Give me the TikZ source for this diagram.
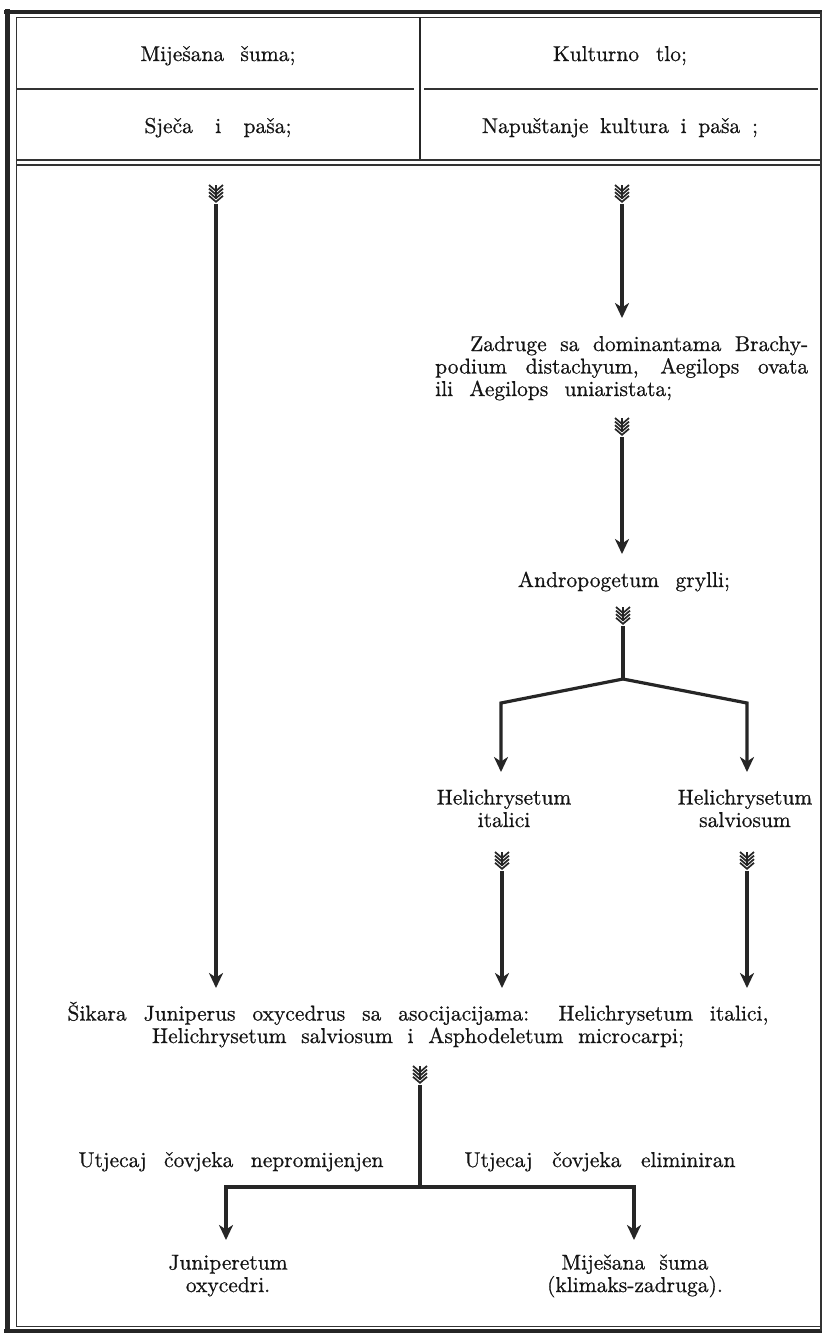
\documentclass[tikz,border=0pt]{standalone}
\usetikzlibrary{arrows.meta}
\font\bigrm="[lmroman10-regular]:embolden=0.6" at 21.5pt
\newcommand{\sline}[2]{\makebox[#1][s]{\spaceskip=7pt plus 1fil\relax #2}}
\tikzset{
  txt/.style={font={\bigrm\baselineskip=22.5pt}, inner sep=0pt, anchor=base, text=black!92},
  conn/.style={line width=3.2pt, draw=black!85},
  arr/.style={conn, -{Stealth[length=15pt,width=14pt,inset=4.5pt]}},
  thinrule/.style={line width=1.2pt, draw=black!80},
  thickrule/.style={line width=4.5pt, draw=black!85},
  divider/.style={line width=2.6pt, draw=black!85},
  fletch/.pic={
    \foreach \k in {0,1,2,3}{
      \draw[line width=1.7pt, draw=black!85, line join=miter] (-7,-8+3.6*\k) -- (0,-2+3.6*\k) -- (7,-8+3.6*\k);
    }
    \draw[line width=1.7pt, draw=black!85] (0,-8) -- (0,6);
    \coordinate (-end) at (0,11);
  }
}
\begin{document}
\begin{tikzpicture}[x=1pt,y=-1pt]
\useasboundingbox[fill=white] (0,0) rectangle (824,1334);
% frame
\draw[thickrule] (4,12) -- (822,12);
\draw[thickrule, line width=5pt] (7.5,9) -- (7.5,1333);
\draw[thickrule] (4,1331) -- (822,1331);
\draw[thinrule] (821,12) -- (821,1331);
\draw[thinrule, line width=1pt] (16,1326) -- (16,17) -- (821,17);
\draw[thinrule, line width=1pt] (16,1326) -- (821,1326);
% header
\draw[divider] (420,17) -- (420,160);
\draw[thinrule] (16,89) -- (414,89);
\draw[thinrule] (424,89) -- (818,89);
\draw[thinrule] (16,160) -- (821,160);
\draw[thinrule] (16,165) -- (821,165);
\node[txt] (h1) at (218,61) {\sline{155pt}{Miješana šuma;}};
\node[txt] (h2) at (620,61) {\sline{134pt}{Kulturno tlo;}};
\node[txt] (h3) at (218,133) {\sline{147pt}{Sječa i paša;}};
\node[txt] (h4) at (620,133) {\sline{276pt}{Napuštanje kultura i paša ;}};
% texts
\node[txt, anchor=base west, text width=373pt, align=left] (zad) at (435,351)
  {\hspace*{35pt}\sline{338pt}{Zadruge sa dominantama Brachy-}\\
   \sline{373pt}{podium distachyum, Aegilops ovata}\\
   \sline{237pt}{ili Aegilops uniaristata;}};
\node[txt] (andr) at (624,587) {\sline{212pt}{Andropogetum grylli;}};
\node[txt, align=center] (hi) at (504,827) {Helichrysetum\\italici};
\node[txt, align=center] (hs) at (745,827) {Helichrysetum\\salviosum};
\node[txt, align=center] (sik) at (418,1043)
  {\sline{701pt}{Šikara Juniperus oxycedrus sa asocijacijama: Helichrysetum italici,}\\
   \sline{532pt}{Helichrysetum salviosum i Asphodeletum microcarpi;}};
\node[txt] (u1) at (231,1167) {\sline{305pt}{Utjecaj čovjeka nepromijenjen}};
\node[txt] (u2) at (600,1167) {\sline{271pt}{Utjecaj čovjeka eliminiran}};
\node[txt, align=center] (jun) at (228,1292) {Juniperetum\\oxycedri.};
\node[txt, align=center] (mje) at (635,1292) {\sline{147pt}{Miješana šuma}\\(klimaks-zadruga).};
% fletchings
\pic (fa) at (216,193) {fletch};
\pic (fb) at (622,193) {fletch};
\pic (fc) at (622,426) {fletch};
\pic (fd) at (623,615) {fletch};
\pic (fe) at (502,860) {fletch};
\pic (ff) at (747,860) {fletch};
\pic (fg) at (420,1074) {fletch};
% coordinates
\coordinate (ta) at (216,988);
\coordinate (tb) at (622,318);
\coordinate (tc) at (622,554);
\coordinate (te) at (502,988);
\coordinate (tf) at (747,988);
\coordinate (j) at (623,679);
\coordinate (bl) at (501,703);
\coordinate (br) at (747,703);
\coordinate (tl) at (501,772);
\coordinate (tr) at (747,772);
\coordinate (hb) at (420,1187);
\coordinate (jt) at (226,1240);
\coordinate (mt) at (634,1240);
% connectors
\draw[arr] (fa-end) -- (ta);
\draw[arr] (fb-end) -- (tb);
\draw[arr] (fc-end) -- (tc);
\draw[conn] (fd-end) -- (j);
\draw[arr] (j) -- (bl) -- (tl);
\draw[arr] (j) -- (br) -- (tr);
\draw[arr] (fe-end) -- (te);
\draw[arr] (ff-end) -- (tf);
\draw[conn] (fg-end) -- (hb);
\draw[arr] (hb) -| (jt);
\draw[arr] (hb) -| (mt);
\end{tikzpicture}
\end{document}
